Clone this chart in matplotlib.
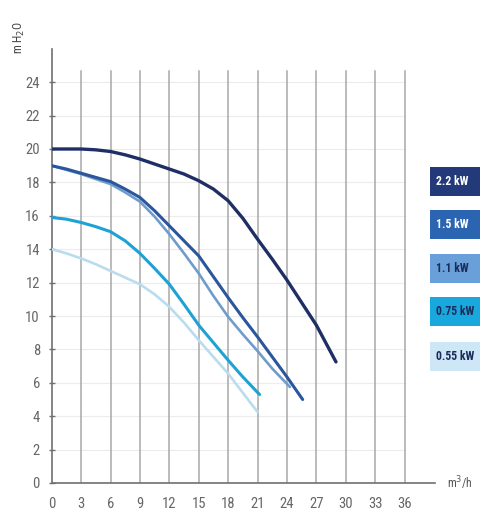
import matplotlib
matplotlib.use("Agg")
import matplotlib.pyplot as plt
import matplotlib.patches as patches
from matplotlib import font_manager

# pump curves: flow (m3/h) vs head (m H2O)
q_22 = [0, 1.5, 3, 4.5, 6, 7.5, 9, 10.5, 12, 13.5, 15, 16.5, 18, 19.5, 21, 22.5, 24, 25.5, 27, 29]
h_22 = [20.0, 20.0, 20.0, 19.95, 19.85, 19.65, 19.4, 19.1, 18.8, 18.5, 18.1, 17.6, 16.9,
        15.85, 14.6, 13.4, 12.15, 10.8, 9.45, 7.25]
q_15 = [0, 1.5, 3, 4.5, 6, 7.5, 9, 10.5, 12, 13.5, 15, 16.5, 18, 19.5, 21, 22.5, 24, 25.6]
h_15 = [19.0, 18.8, 18.55, 18.3, 18.05, 17.6, 17.1, 16.3, 15.4, 14.5, 13.6, 12.35, 11.1,
        9.9, 8.75, 7.55, 6.35, 5.0]
q_11 = [0, 1.5, 3, 4.5, 6, 7.5, 9, 10.5, 12, 13.5, 15, 16.5, 18, 19.5, 21, 22.5, 24.3]
h_11 = [19.0, 18.75, 18.5, 18.2, 17.9, 17.4, 16.85, 15.95, 14.9, 13.75, 12.55, 11.2, 9.95,
        8.9, 7.9, 6.85, 5.75]
q_075 = [0, 1.5, 3, 4.5, 6, 7.5, 9, 10.5, 12, 13.5, 15, 16.5, 18, 19.5, 21.2]
h_075 = [15.9, 15.8, 15.6, 15.35, 15.05, 14.5, 13.75, 12.85, 11.9, 10.7, 9.45, 8.4, 7.35,
         6.35, 5.3]
q_055 = [0, 1.5, 3, 4.5, 6, 7.5, 9, 10.5, 12, 13.5, 15, 16.5, 18, 19.5, 21]
h_055 = [14.0, 13.75, 13.45, 13.1, 12.7, 12.3, 11.9, 11.3, 10.55, 9.6, 8.55, 7.55, 6.55,
         5.4, 4.25]

labels = ["2.2 kW", "1.5 kW", "1.1 kW", "0.75 kW", "0.55 kW"]
x_ticks = list(range(0, 37, 3))
y_ticks = list(range(0, 25, 2))

line_colors = ["#1f2f66", "#2a569c", "#6f9ccc", "#1ea2d4", "#b9dcee"]
box_colors = ["#22397a", "#2b64b0", "#6aa0da", "#19a8de", "#cde7f7"]
text_colors = ["white", "white", "#1c2c5a", "#1c2c5a", "#1c2c5a"]


def pick_font(names):
    have = {f.name for f in font_manager.fontManager.ttflist}
    for n in names:
        if n in have:
            return n
    return "DejaVu Sans"


narrow = pick_font(["Liberation Sans Narrow", "DejaVu Sans Condensed", "Roboto Condensed", "Liberation Sans"])
plt.rcParams["font.family"] = [narrow, "DejaVu Sans"]

fig = plt.figure(figsize=(4.81, 5.12), dpi=100)
ax = fig.add_axes([51.7 / 481, 29 / 512, 383.3 / 481, 434.2 / 512])
ax.set_xlim(0, 39.1)
ax.set_ylim(0, 26)

# faint horizontal grid + vertical grey grid
for y in y_ticks[1:]:
    ax.plot([0, 36], [y, y], color="#ececec", lw=0.8, zorder=0)
for x in x_ticks[1:]:
    ax.plot([x, x], [0, 24.7], color="#a8a8a8", lw=1.1, zorder=1)

series = [(q_22, h_22), (q_15, h_15), (q_11, h_11), (q_075, h_075), (q_055, h_055)]
widths = [2.4, 2.2, 1.9, 2.2, 1.9]
for i in range(len(series) - 1, -1, -1):
    q, h = series[i]
    ax.plot(q, h, color=line_colors[i], lw=widths[i], solid_capstyle="round",
            solid_joinstyle="round", zorder=3)

for s in ["top", "right"]:
    ax.spines[s].set_visible(False)
ax.spines["left"].set_color("#707070")
ax.spines["left"].set_linewidth(1.2)
ax.spines["bottom"].set_color("#707070")
ax.spines["bottom"].set_linewidth(1.2)

ax.set_xticks(x_ticks)
ax.set_yticks(y_ticks)
ax.tick_params(axis="y", direction="inout", length=5, width=1, color="#707070",
               labelsize=10.5, labelcolor="#666666", pad=6)
ax.tick_params(axis="x", direction="inout", length=0, labelsize=10.5,
               labelcolor="#666666", pad=10)

ax.text(40.3, 0, "m$^3$/h", fontsize=8.5, color="#555555", ha="left", va="center", clip_on=False)
fig.text(19 / 481, 1 - 38 / 512, "m H$_2$O", rotation=90, fontsize=8.5, color="#444444",
         ha="center", va="center")

# legend boxes on the right edge
box_tops = [167, 210, 254, 297, 342]
for i, lab in enumerate(labels):
    top = box_tops[i]
    rect = patches.Rectangle((430 / 481, 1 - (top + 29) / 512), 60 / 481, 29 / 512,
                             transform=fig.transFigure, facecolor=box_colors[i],
                             edgecolor="none")
    fig.patches.append(rect)
    fig.text(436 / 481, 1 - (top + 14.5) / 512, lab, fontsize=8.5, fontweight="bold",
             color=text_colors[i], ha="left", va="center")

fig.savefig("out.png", dpi=100)
